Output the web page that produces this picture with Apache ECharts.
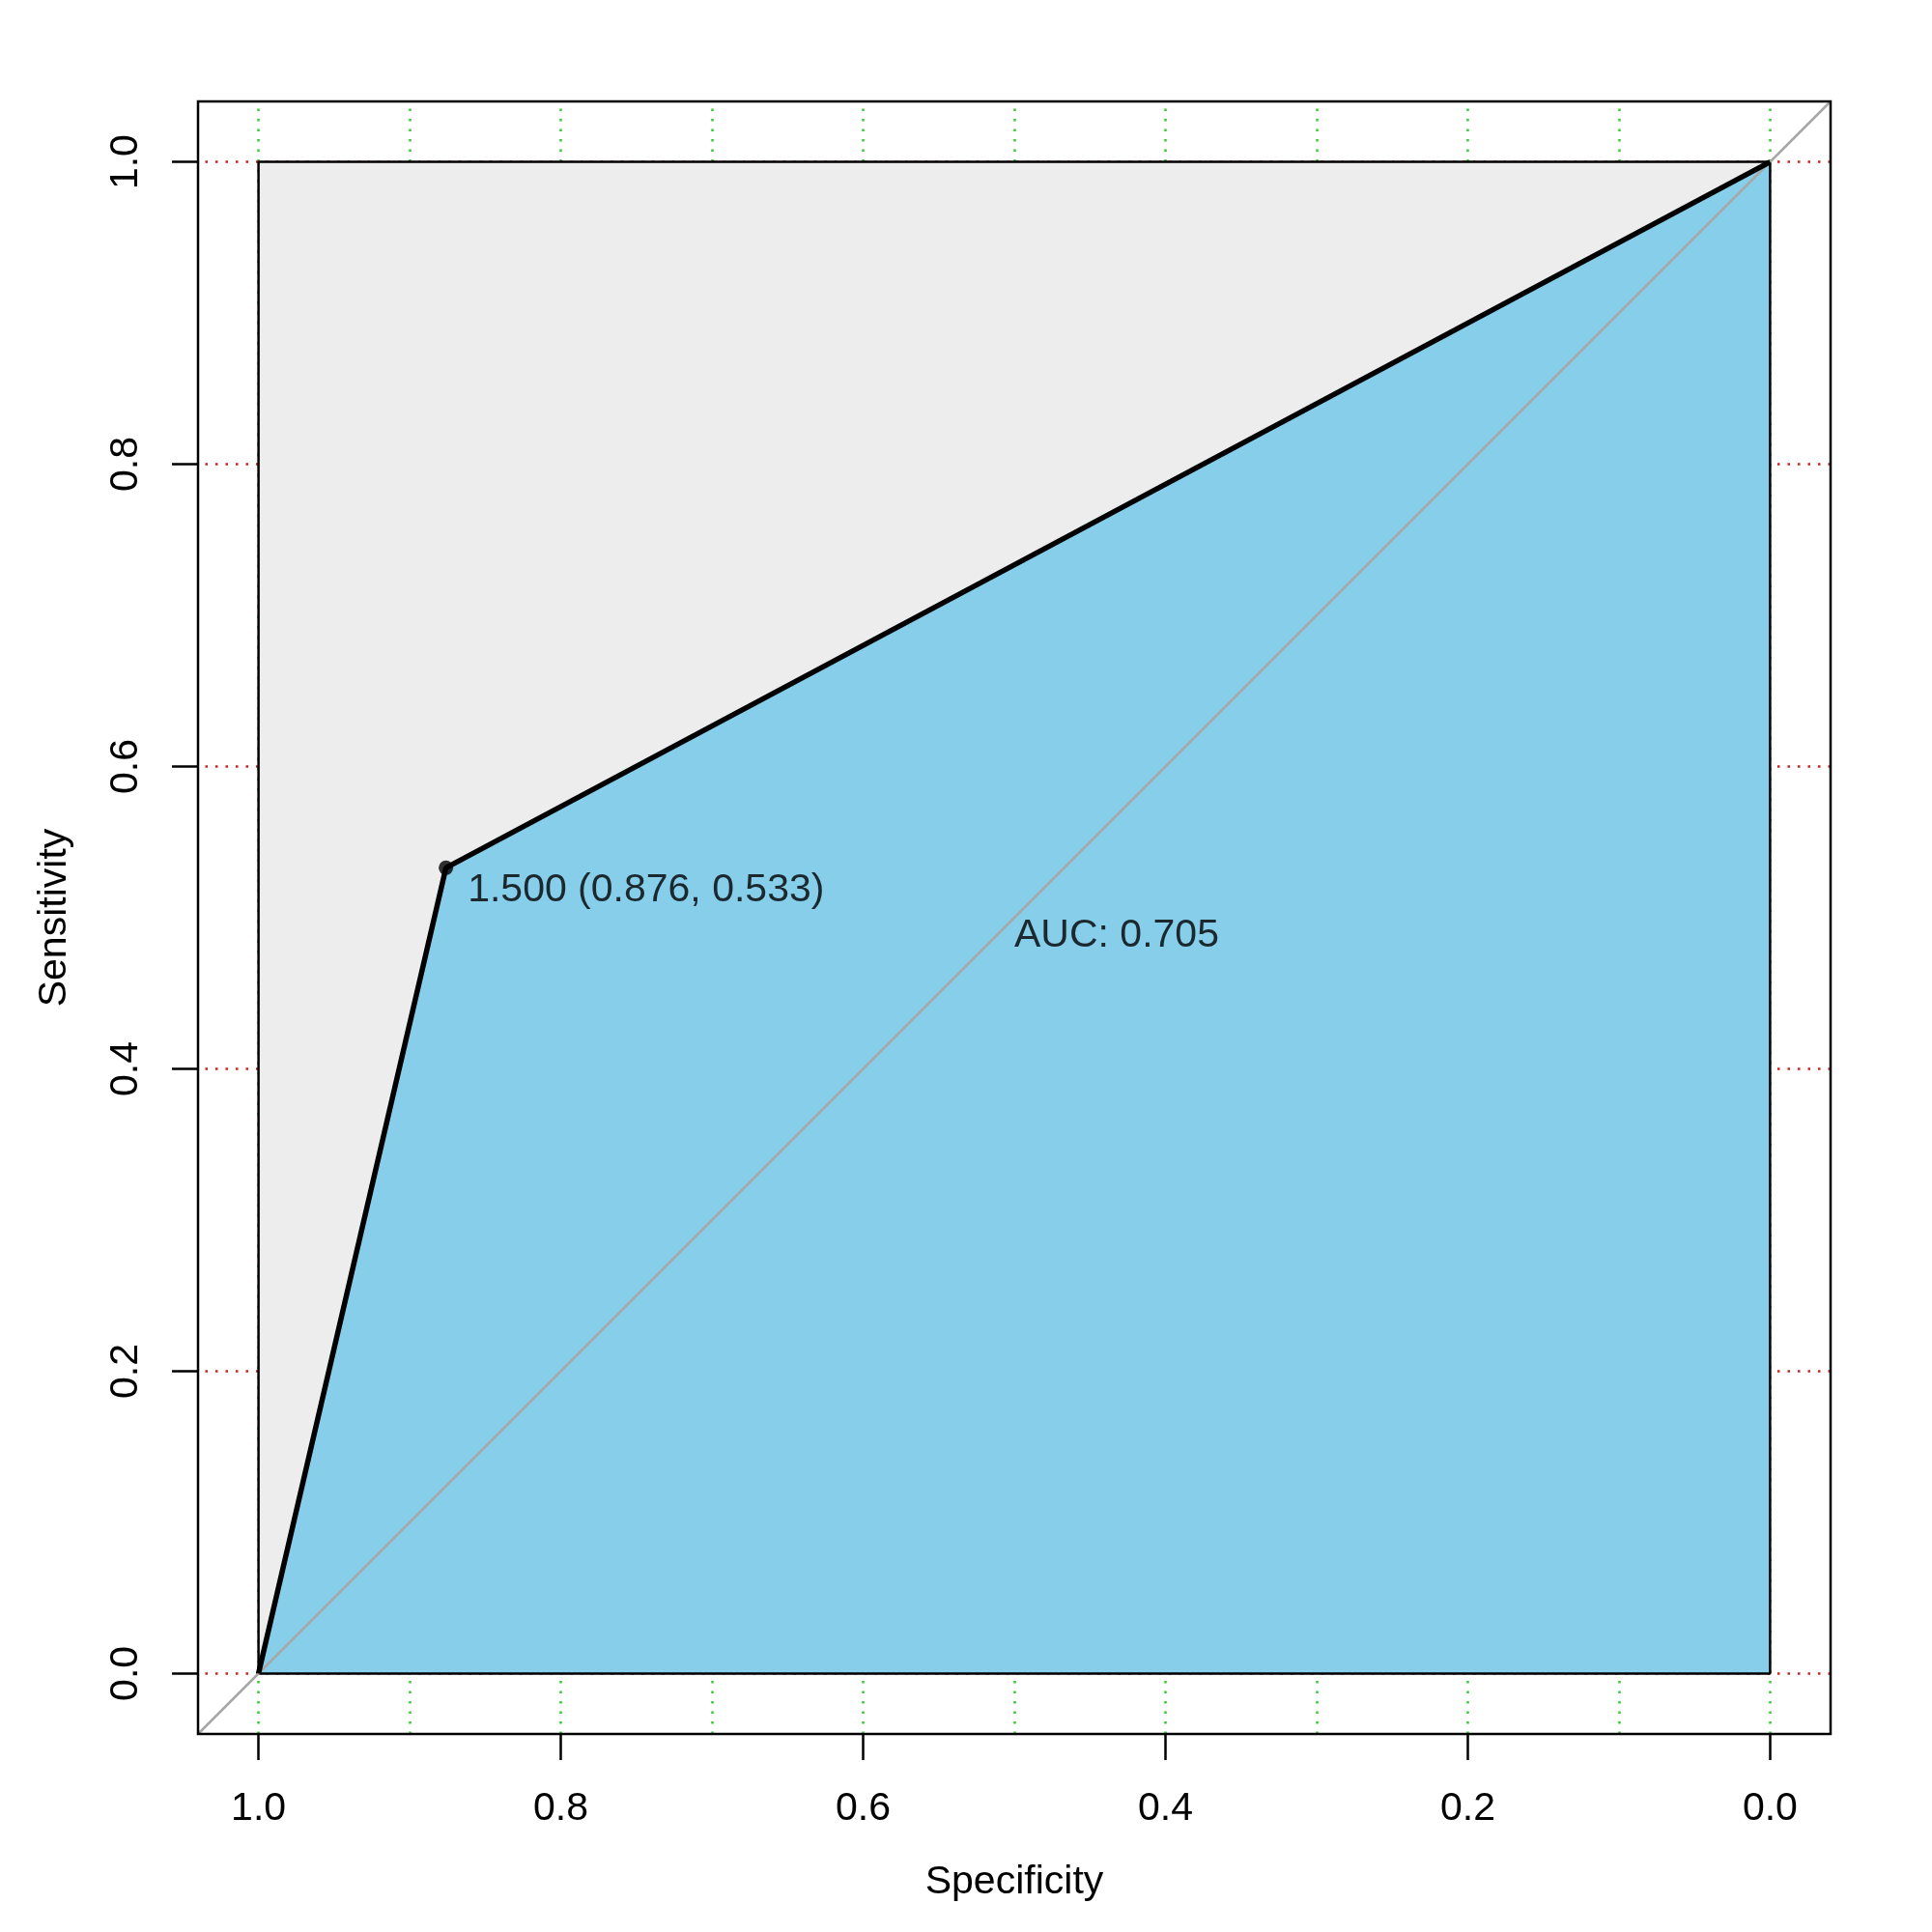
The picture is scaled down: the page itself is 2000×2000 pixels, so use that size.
<!DOCTYPE html>
<html>
<head>
<meta charset="utf-8">
<script src="https://cdn.jsdelivr.net/npm/echarts@6/dist/echarts.min.js"></script>
<style>html,body{margin:0;padding:0;background:#fff}#chart{width:2000px;height:2000px}</style>
</head>
<body>
<div id="chart"></div>
<script>
// ---- data ----
const specificity = [1.0, 0.876, 0.0];
const sensitivity = [0.0, 0.533, 1.0];
const tickValues = [0, 0.2, 0.4, 0.6, 0.8, 1.0];
const vGridValues = [0, 0.1, 0.2, 0.3, 0.4, 0.5, 0.6, 0.7, 0.8, 0.9, 1.0];
const hGridValues = [0, 0.2, 0.4, 0.6, 0.8, 1.0];
const axisMin = -0.04, axisMax = 1.04;
const bestThreshold = [0.876, 0.533];
const thresholdLabel = '1.500 (0.876, 0.533)';
const aucPos = [0.5, 0.5];
const aucText = 'AUC: 0.705';
const maxRect = [[1, 0], [1, 1], [0, 1], [0, 0]];

const FONT = "'Liberation Sans', Arial, Helvetica, sans-serif";
const rocPts = specificity.map((s, i) => [s, sensitivity[i]]);

function polygonSeries(points, color, z) {
  return {
    type: 'custom', z: z, silent: true,
    data: [0],
    renderItem: function (params, api) {
      return {
        type: 'polygon',
        shape: { points: points.map(p => api.coord(p)) },
        style: { fill: color, stroke: null }
      };
    }
  };
}

const chart = echarts.init(document.getElementById('chart'), null, { renderer: 'canvas' });
const option = {
  animation: false,
  backgroundColor: '#ffffff',
  textStyle: { fontFamily: FONT },
  grid: { left: 205, top: 105, width: 1690, height: 1690, show: true, borderColor: '#000', borderWidth: 2.5, backgroundColor: 'transparent', z: 20 },
  xAxis: {
    type: 'value', inverse: true, min: axisMin, max: axisMax,
    axisLine: { show: false, onZero: false },
    splitLine: { show: false },
    axisTick: { show: true, length: 27, lineStyle: { color: '#000', width: 2.5 }, customValues: tickValues },
    axisLabel: { customValues: tickValues, formatter: v => v.toFixed(1), fontSize: 41, color: '#000', margin: 57, fontFamily: FONT },
    name: 'Specificity', nameLocation: 'middle', nameGap: 133,
    nameTextStyle: { fontSize: 41, color: '#000', fontFamily: FONT }
  },
  yAxis: {
    type: 'value', min: axisMin, max: axisMax,
    axisLine: { show: false, onZero: false },
    splitLine: { show: false },
    axisTick: { show: true, length: 27, lineStyle: { color: '#000', width: 2.5 }, customValues: tickValues },
    axisLabel: { customValues: tickValues, formatter: v => v.toFixed(1), fontSize: 41, color: '#000', margin: 54, rotate: 90, fontFamily: FONT },
    name: 'Sensitivity', nameLocation: 'middle', nameGap: 128, nameRotate: 90,
    nameTextStyle: { fontSize: 41, color: '#000', fontFamily: FONT }
  },
  series: [
    {
      type: 'line', data: [], z: 1, silent: true,
      markLine: {
        z: 1, silent: true, symbol: ['none', 'none'], label: { show: false },
        lineStyle: { color: '#33CC33', type: [2.5, 8], width: 2.5 },
        data: vGridValues.map(v => ({ xAxis: v }))
      }
    },
    {
      type: 'line', data: [], z: 1, silent: true,
      markLine: {
        z: 1, silent: true, symbol: ['none', 'none'], label: { show: false },
        lineStyle: { color: '#CC2222', type: [2.5, 8], width: 2.5 },
        data: hGridValues.map(v => ({ yAxis: v }))
      }
    },
    polygonSeries(maxRect, '#EDEDED', 2),
    polygonSeries(rocPts.concat([[0, 0]]), '#87CEEB', 3),
    {
      type: 'line', z: 4, silent: true, symbol: 'none',
      data: maxRect.concat([maxRect[0]]),
      lineStyle: { color: '#000', width: 2.5 }
    },
    {
      type: 'line', z: 5, silent: true, symbol: 'none',
      data: [[axisMax, axisMin], [axisMin, axisMax]],
      lineStyle: { color: '#A8A8A8', width: 2.5 }
    },
    {
      type: 'line', z: 6, silent: true, symbol: 'none',
      data: rocPts,
      lineStyle: { color: '#000', width: 5.5 }
    },
    {
      type: 'scatter', z: 7, silent: true,
      data: [bestThreshold], symbolSize: 15, itemStyle: { color: '#000' },
      label: {
        show: true, formatter: thresholdLabel, position: 'right', distance: 15, offset: [0, 23],
        fontSize: 41, color: '#000', fontFamily: FONT
      }
    },
    {
      type: 'scatter', z: 7, silent: true,
      data: [aucPos], symbolSize: 0, itemStyle: { color: 'transparent' },
      label: {
        show: true, formatter: aucText, position: 'right', distance: 0, offset: [0, 19],
        fontSize: 41, color: '#000', fontFamily: FONT
      }
    }
  ]
};
chart.setOption(option);
</script>
</body>
</html>
